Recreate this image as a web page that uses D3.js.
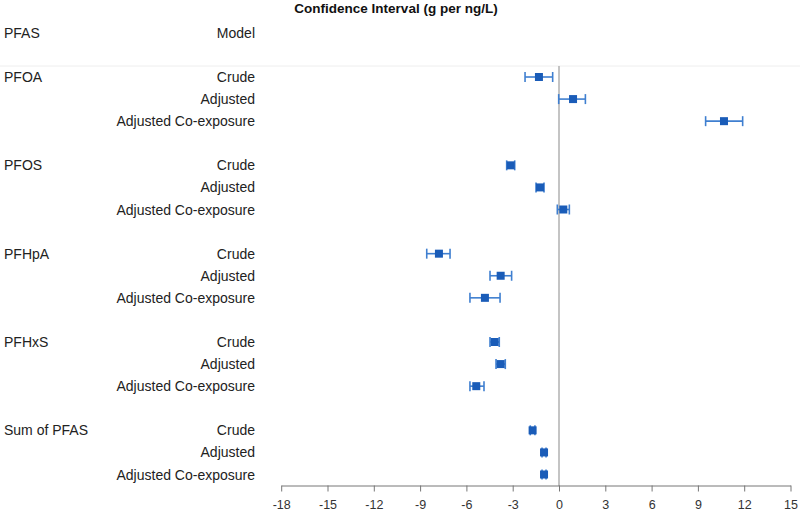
<!DOCTYPE html>
<html><head><meta charset="utf-8">
<script src="https://cdn.jsdelivr.net/npm/d3@7"></script>
<style>body{margin:0;background:#fff;font-family:"Liberation Sans",Arial,sans-serif}</style>
</head><body><svg id="c" width="800" height="516"></svg>
<script>
const groups = ["PFOA","PFOS","PFHpA","PFHxS","Sum of PFAS"];
const models = ["Crude","Adjusted","Adjusted Co-exposure"];
const est  = [[-1.30,0.91,10.69],[-3.13,-1.23,0.28],[-7.78,-3.78,-4.80],[-4.17,-3.78,-5.36],[-1.71,-0.97,-0.97]];
const low  = [[-2.20,-0.02,9.50],[-3.39,-1.49,-0.11],[-8.57,-4.47,-5.77],[-4.47,-4.08,-5.77],[-1.86,-1.10,-1.10]];
const high = [[-0.41,1.71,11.90],[-2.87,-0.97,0.67],[-7.06,-3.07,-3.82],[-3.87,-3.48,-4.86],[-1.56,-0.84,-0.84]];
const ticks = [-18,-15,-12,-9,-6,-3,0,3,6,9,12,15];

const rows = [];
groups.forEach((g,gi)=>models.forEach((m,mi)=>rows.push({g,m,gi,mi,idx:gi*4+mi,est:est[gi][mi],lo:low[gi][mi],hi:high[gi][mi]})));

const svg = d3.select("#c");
const x = d3.scaleLinear().domain([-18,15]).range([281.2,790.5]);
const y = d3.scaleLinear().domain([0,18]).range([77,474.5]);
const FS = 14;

svg.append("text").attr("x",396).attr("y",12.5).attr("text-anchor","middle")
  .attr("font-weight","bold").attr("font-size",13.5).attr("fill","#111").text("Confidence Interval (g per ng/L)");
svg.append("text").attr("x",4).attr("y",38).attr("font-size",FS).attr("fill","#222").text("PFAS");
svg.append("text").attr("x",255).attr("y",38).attr("text-anchor","end").attr("font-size",FS).attr("fill","#222").text("Model");
svg.append("line").attr("x1",0).attr("x2",800).attr("y1",66).attr("y2",66).attr("stroke","#eeeeee").attr("stroke-width",1);

// reference line
svg.append("line").attr("x1",x(0)).attr("x2",x(0)).attr("y1",66).attr("y2",486).attr("stroke","#b0b0b0").attr("stroke-width",1.5);

// axis
const ax = svg.append("g").attr("transform","translate(0,485.5)")
  .call(d3.axisBottom(x).tickValues(ticks).tickSize(6).tickSizeOuter(0).tickPadding(9).tickFormat(d=>String(d)));
ax.select(".domain").attr("stroke","#777");
ax.selectAll(".tick line").attr("stroke","#777");
ax.selectAll(".tick text").attr("font-size",12.5).attr("fill","#333").attr("font-family","Liberation Sans, Arial, sans-serif");

// labels
svg.selectAll("text.grp").data(rows.filter(r=>r.mi===0)).join("text").attr("class","grp")
  .attr("x",4).attr("y",d=>y(d.idx)+5).attr("font-size",FS).attr("fill","#222").text(d=>d.g);
svg.selectAll("text.mod").data(rows).join("text").attr("class","mod")
  .attr("x",255).attr("y",d=>y(d.idx)+5).attr("text-anchor","end").attr("font-size",FS).attr("fill","#222").text(d=>d.m);

// error bars
const eb = svg.selectAll("g.eb").data(rows).join("g").attr("class","eb");
eb.append("line").attr("x1",d=>x(d.lo)).attr("x2",d=>x(d.hi)).attr("y1",d=>y(d.idx)).attr("y2",d=>y(d.idx))
  .attr("stroke","#3f7fd0").attr("stroke-width",1.6);
eb.append("line").attr("x1",d=>x(d.lo)).attr("x2",d=>x(d.lo)).attr("y1",d=>y(d.idx)-5).attr("y2",d=>y(d.idx)+5)
  .attr("stroke","#3f7fd0").attr("stroke-width",1.6);
eb.append("line").attr("x1",d=>x(d.hi)).attr("x2",d=>x(d.hi)).attr("y1",d=>y(d.idx)-5).attr("y2",d=>y(d.idx)+5)
  .attr("stroke","#3f7fd0").attr("stroke-width",1.6);
eb.append("rect").attr("x",d=>x(d.est)-4).attr("y",d=>y(d.idx)-4).attr("width",8).attr("height",8).attr("fill","#1a5cb8");
</script></body></html>
